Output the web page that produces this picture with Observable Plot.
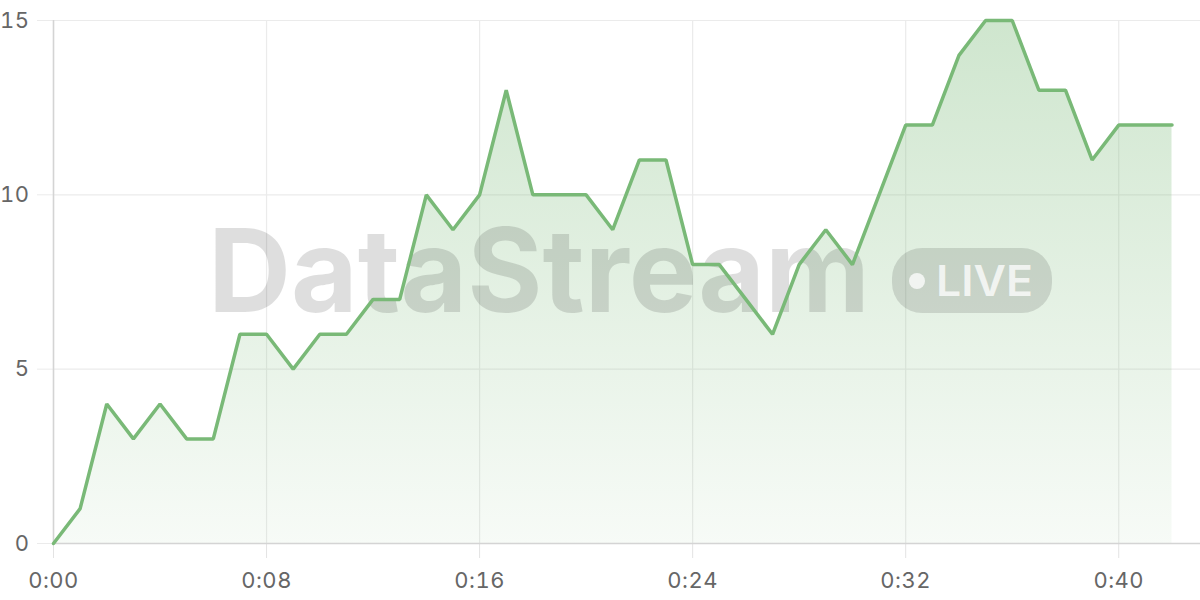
<!DOCTYPE html>
<html>
<head>
<meta charset="utf-8">
<script src="https://cdn.jsdelivr.net/npm/d3@7"></script>
<script src="https://cdn.jsdelivr.net/npm/@observablehq/plot@0.6"></script>
<style>
  html, body { margin: 0; padding: 0; background: #fff; }
  #chart { width: 1200px; height: 600px; }
  #chart g[aria-label$="tick label"] { font-size: 22px; font-family: Inter, 'Noto Sans', sans-serif; letter-spacing: 0.5px; }
</style>
</head>
<body>
<div id="chart"></div>
<script>
const times = [0,1,2,3,4,5,6,7,8,9,10,11,12,13,14,15,16,17,18,19,20,21,22,23,24,25,26,27,28,29,30,31,32,33,34,35,36,37,38,39,40,41,42];
const values = [0,1,4,3,4,3,3,6,6,5,6,6,7,7,10,9,10,13,10,10,10,9,11,11,8,8,7,6,8,9,8,10,12,12,14,15,15,13,13,11,12,12,12];
const xTicks = [0,8,16,24,32,40];
const xTickLabels = ["0:00","0:08","0:16","0:24","0:32","0:40"];
const yTicks = [0,5,10,15];
const watermarkText = "DataStream";
const badgeText = "LIVE";

const data = times.map((t,i) => ({t, v: values[i]}));
const lineColor = "#79b977";
const font = "Inter, 'Noto Sans', sans-serif";

const plot = Plot.plot({
  width: 1200,
  height: 600,
  marginLeft: 53,
  marginRight: 0,
  marginTop: 20,
  marginBottom: 57,
  style: {fontFamily: font, fontSize: "22px", color: "#666", background: "#fff"},
  x: {domain: [0, 43.07], ticks: xTicks},
  y: {domain: [0, 15], ticks: yTicks},
  marks: [
    () => {
      const svg = d3.create("svg:defs");
      const g = svg.append("linearGradient").attr("id","areaGrad")
        .attr("gradientUnits","userSpaceOnUse").attr("x1",0).attr("x2",0).attr("y1",20).attr("y2",543);
      g.append("stop").attr("offset","0%").attr("stop-color",lineColor).attr("stop-opacity",0.36);
      g.append("stop").attr("offset","100%").attr("stop-color",lineColor).attr("stop-opacity",0.06);
      return svg.node();
    },
    Plot.gridY(yTicks, {stroke: "#ebebeb", strokeOpacity: 1, strokeWidth: 1.2}),
    Plot.gridX(xTicks, {stroke: "#ebebeb", strokeOpacity: 1, strokeWidth: 1.2}),
    Plot.axisY(yTicks, {tickSize: 16, tickPadding: 8, stroke: "#ebebeb", strokeOpacity: 1, fill: "#666", label: null}),
    Plot.axisX(xTicks, {tickSize: 15, tickPadding: 14, stroke: "#e3e3e3", strokeOpacity: 1, fill: "#666", label: null,
      tickFormat: (d) => xTickLabels[xTicks.indexOf(d)]}),
    Plot.areaY(data, {x: "t", y: "v", fill: "url(#areaGrad)"}),
    Plot.ruleX([0], {stroke: "#d4d4d4", strokeWidth: 1.5}),
    Plot.ruleY([0], {stroke: "#d4d4d4", strokeWidth: 1.5}),
    () => {
      const g = d3.create("svg:g").attr("class","watermark").attr("pointer-events","none").attr("text-anchor","start");
      g.append("text").attr("x",208).attr("y",312).attr("font-family",font).attr("font-weight",700)
        .attr("font-size",116).attr("textLength",662).attr("lengthAdjust","spacingAndGlyphs")
        .attr("fill","#000").attr("fill-opacity",0.13).text(watermarkText);
      g.append("rect").attr("x",892).attr("y",248).attr("width",160).attr("height",65).attr("rx",30)
        .attr("fill","#000").attr("fill-opacity",0.12);
      g.append("circle").attr("cx",917).attr("cy",281).attr("r",8).attr("fill","#fff").attr("fill-opacity",0.75);
      g.append("text").attr("x",936).attr("y",296).attr("font-family",font).attr("font-weight",600)
        .attr("font-size",42).attr("textLength",97).attr("lengthAdjust","spacingAndGlyphs")
        .attr("fill","#fff").attr("fill-opacity",0.75).text(badgeText);
      return g.node();
    },
    Plot.lineY(data, {x: "t", y: "v", stroke: lineColor, strokeWidth: 3.5, strokeLinejoin: "miter"})
  ]
});
document.getElementById("chart").appendChild(plot);
</script>
</body>
</html>
